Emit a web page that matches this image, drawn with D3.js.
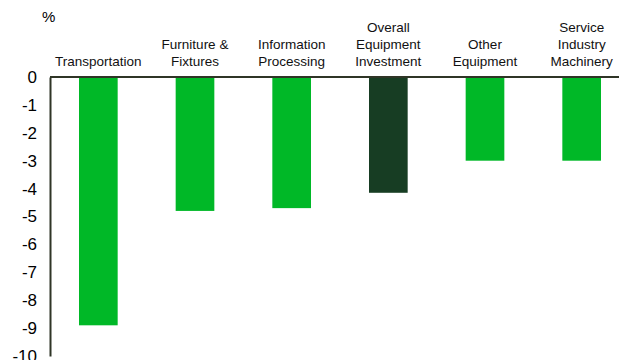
<!DOCTYPE html>
<html>
<head>
<meta charset="utf-8">
<script src="https://cdn.jsdelivr.net/npm/d3@7"></script>
<style>
  body { margin: 0; background: #fff; }
  text { font-family: "Liberation Sans", Arial, sans-serif; }
</style>
</head>
<body>
<script>
// categories (lines of each label) and values, %
const categories = ["Transportation", "Furniture & Fixtures", "Information Processing", "Overall Equipment Investment", "Other Equipment", "Service Industry Machinery"]
const labelLines = [["Transportation"], ["Furniture &", "Fixtures"], ["Information", "Processing"], ["Overall", "Equipment", "Investment"], ["Other", "Equipment"], ["Service", "Industry", "Machinery"]]
const values = [-8.9, -4.8, -4.7, -4.15, -3.0, -3.0]
const yTicks = [0, -1, -2, -3, -4, -5, -6, -7, -8, -9, -10]

const W = 619, H = 360
const padL = 50, padR = 630, padT = 77, padB = 356

const svg = d3.select("body").append("svg").attr("width", W).attr("height", H)

const x = d3.scaleBand().domain(categories).range([padL, padR]).paddingInner(0.6).paddingOuter(0.3)
const y = d3.scaleLinear().domain([0, -10]).range([padT, padB])

// bars
svg.selectAll("rect.bar")
    .data(values)
    .enter()
    .append("rect")
    .attr("class", "bar")
    .attr("x", (d, i) => x(categories[i]))
    .attr("width", x.bandwidth())
    .attr("y", y(0))
    .attr("height", d => y(d) - y(0))
    .attr("fill", (d, i) => i == 3 ? "#173d23" : "#00b827")

// y axis
const yAxis = d3.axisLeft(y).tickValues(yTicks).tickSize(0).tickPadding(13).tickFormat(d => d)
const ga = svg.append("g").attr("transform", "translate(" + padL + ",0)").call(yAxis)
ga.select(".domain").attr("stroke", "#2f3526").attr("stroke-width", 2)
ga.selectAll("text").style("font-size", "17px").attr("fill", "#000")

// zero line
svg.append("line")
    .attr("x1", padL).attr("x2", W)
    .attr("y1", y(0)).attr("y2", y(0))
    .attr("stroke", "#2f3526").attr("stroke-width", 2)

// category labels
labelLines.forEach((lines, i) => {
    const cx = x(categories[i]) + x.bandwidth() / 2
    const t = svg.append("text")
        .attr("x", cx)
        .attr("text-anchor", "middle")
        .style("font-size", "13.5px")
        .attr("fill", "#111")
    lines.forEach((ln, j) => {
        t.append("tspan")
            .attr("x", cx)
            .attr("y", 66 - (lines.length - 1 - j) * 17)
            .text(ln)
    })
})

svg.append("text")
    .attr("x", 42).attr("y", 22)
    .style("font-size", "15px")
    .text("%")
</script>
</body>
</html>
